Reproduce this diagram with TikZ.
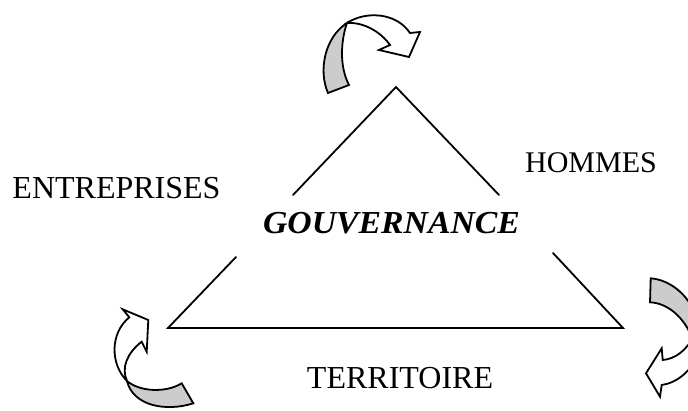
\documentclass[tikz,border=0pt]{standalone}
\usepackage{fontspec}
\setmainfont{Liberation Serif}
\begin{document}
\begin{tikzpicture}[x=0.75pt,y=-0.75pt,
  tri/.style={line width=1.35pt,line cap=round,line join=miter},
  arrw/.style={line width=1.35pt,line join=miter,fill=white},
  arrs/.style={line width=1.35pt,line join=miter,fill=shadegray},
  lbl/.style={inner sep=0pt,anchor=base,font=\fontsize{24}{28}\selectfont}]
\definecolor{shadegray}{RGB}{204,204,204}
\useasboundingbox (0,0) rectangle (688,410);
\clip (0,0) rectangle (688,410);
% triangle
\coordinate (apex) at (396,87);
\coordinate (bl) at (168,328);
\coordinate (br) at (623,328);
\coordinate (lg1) at (293,195);
\coordinate (lg2) at (236,257);
\coordinate (rg1) at (499,195);
\coordinate (rg2) at (553,253);
\draw[tri] (apex) -- (lg1);
\draw[tri] (lg2) -- (bl) -- (br) -- (rg2);
\draw[tri] (rg1) -- (apex);
% labels
\node[lbl] (gouv) at (391.5,233) {\scalebox{1.055}[1]{\bfseries\itshape GOUVERNANCE}};
\node[lbl] (entr) at (116.5,198) {ENTREPRISES};
\node[lbl,font=\fontsize{22.5}{27}\selectfont] (homm) at (591,172) {HOMMES};
\node[lbl] (terr) at (400,388) {TERRITOIRE};
% top arrow
\coordinate (tx) at (347,23);
\draw[arrw] (tx) .. controls (365,11) and (396,12) .. (410,33) -- (420,32) -- (409,57) -- (379,50) -- (390,45)
  .. controls (380,31) and (363,22) .. (tx) -- cycle;
\draw[arrs] (328,93) .. controls (318,70) and (325,37) .. (tx)
  .. controls (341,40) and (339,66) .. (349,85) -- cycle;
% left arrow
\coordinate (lx) at (127,381);
\draw[arrw] (122.7,309.3) -- (148.3,320) -- (146.7,351.7) -- (141.7,341.7)
  .. controls (127,353) and (121,368) .. (lx)
  .. controls (110,364) and (110,333) .. (129.3,317.3) -- cycle;
\draw[arrs] (lx) .. controls (140,392) and (166,393) .. (181.7,383.3) -- (193.3,403.3)
  .. controls (166,412) and (133,406) .. (lx) -- cycle;
% right arrow
\draw[arrs] (650.7,278.3) .. controls (672,280) and (692,298) .. (698,322) -- (693,340)
  .. controls (685,318) and (668,303) .. (650,302.3) -- cycle;
\draw[arrw] (694,334) .. controls (688,350) and (675,359) .. (662.7,360) -- (661.7,348.3) -- (646,373.3) -- (660,396.7) -- (661.7,385)
  .. controls (676,383) and (692,372) .. (700,350) -- cycle;
\end{tikzpicture}
\end{document}
